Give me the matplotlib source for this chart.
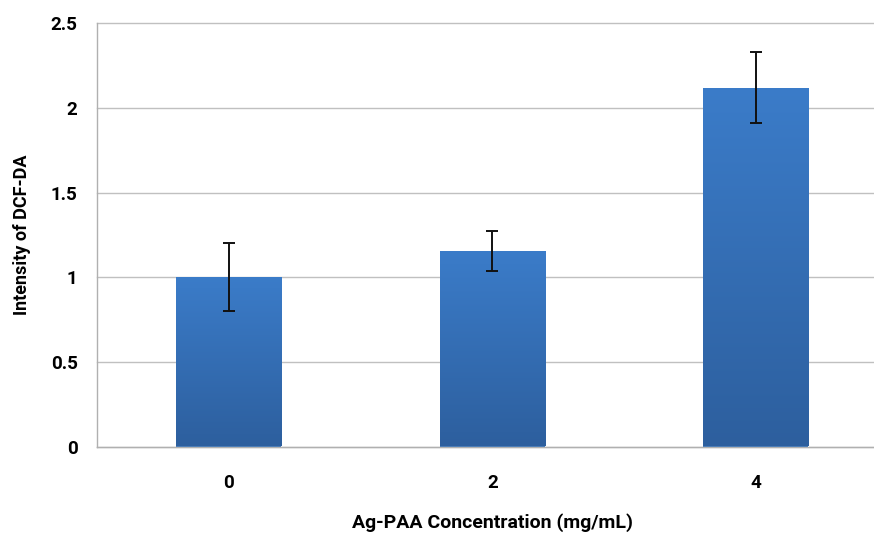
import numpy as np
import matplotlib.pyplot as plt
from matplotlib.colors import LinearSegmentedColormap

# data
categories = ['0', '2', '4']
values = [1.0, 1.155, 2.12]
errors = [0.2, 0.12, 0.21]

plt.rcParams['font.family'] = ['Roboto', 'DejaVu Sans']
plt.rcParams['font.weight'] = 'bold'

fig = plt.figure(figsize=(8.74, 5.38), dpi=100)
# axes runs a little past the right edge of the picture, like the original
ax = fig.add_axes([97 / 874, 1 - 446.5 / 538, 790.5 / 874, 423 / 538])

x = np.arange(len(categories))
bars = ax.bar(x, values, width=0.4, color='#3572bb', zorder=2)

# vertical gradient on each bar (lighter top, darker bottom)
cmap = LinearSegmentedColormap.from_list('blu', ['#2d5f9e', '#3b7cc9'])
grad = np.linspace(0, 1, 256).reshape(-1, 1)
for b in bars:
    x0, w, h = b.get_x(), b.get_width(), b.get_height()
    im = ax.imshow(grad, cmap=cmap, aspect='auto', origin='lower',
                   extent=[x0, x0 + w, 0, h], zorder=3)
    im.set_clip_path(b)

ax.errorbar(x, values, yerr=errors, fmt='none', ecolor='#111111',
            elinewidth=1.4, capsize=4, capthick=1.4, zorder=4)

ax.set_xlim(-0.5, 2.5)
ax.set_ylim(0, 2.5)
ax.set_yticks(np.arange(0, 2.51, 0.5))
ax.set_yticklabels(['0', '0.5', '1', '1.5', '2', '2.5'])
ax.set_xticks(x)
ax.set_xticklabels(categories)

ax.grid(axis='y', color='#c0c0c0', linewidth=1.0, zorder=0)
ax.set_axisbelow(True)
for line in ax.get_ygridlines():
    line.set_clip_on(False)
for s in ['top', 'right']:
    ax.spines[s].set_visible(False)
for s in ['left', 'bottom']:
    ax.spines[s].set_color('#b0b0b0')
    ax.spines[s].set_linewidth(1.0)

ax.tick_params(axis='both', length=0, labelsize=13.5)
for lab in ax.get_xticklabels() + ax.get_yticklabels():
    lab.set_fontweight('bold')
ax.tick_params(axis='y', pad=14)
ax.tick_params(axis='x', pad=20)

ax.set_xlabel('Ag-PAA Concentration (mg/mL)', fontsize=14, fontweight='bold')
ax.set_ylabel('Intensity of DCF-DA', fontsize=13, fontweight='bold')
ax.xaxis.set_label_coords(0.5, -(523 - 446.5) / 423)
ax.yaxis.set_label_coords(-(97 - 22) / 790.5, (446.5 - 235) / 423)
ax.xaxis.label.set_va('center')
ax.yaxis.label.set_va('center')

fig.savefig('out.png', dpi=100)
